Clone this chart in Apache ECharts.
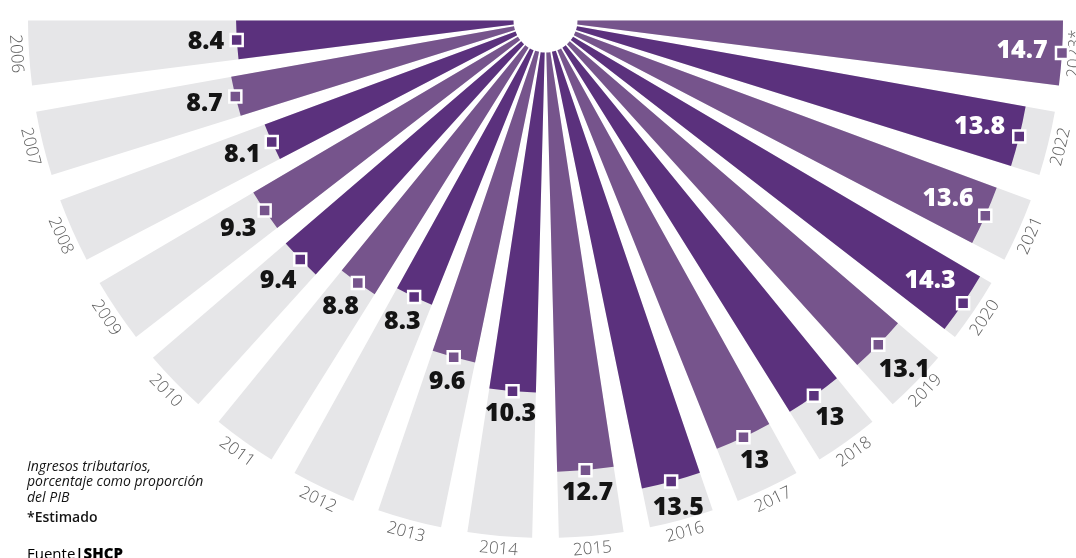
<!DOCTYPE html>
<html><head><meta charset="utf-8">
<script src="https://cdn.jsdelivr.net/npm/echarts@6/dist/echarts.min.js"></script>
<style>html,body{margin:0;padding:0;background:#fff}#chart{width:1076px;height:558px}</style>
</head><body><div id="chart"></div>
<script>
// ---- data ----
const years = ['2006','2007','2008','2009','2010','2011','2012','2013','2014','2015','2016','2017','2018','2019','2020','2021','2022','2023*'];
const values = [8.4, 8.7, 8.1, 9.3, 9.4, 8.8, 8.3, 9.6, 10.3, 12.7, 13.5, 13, 13, 13.1, 14.3, 13.6, 13.8, 14.7];
const insideLabelYears = ['2020','2021','2022','2023*'];
const axisMax = 14.7;
const noteLines = ['Ingresos tributarios,', 'porcentaje como proporción', 'del PIB'];
const noteEstimate = '*Estimado';
const sourceLabel = 'Fuente';
const sourceName = 'SHCP';

// ---- styles ----
const DARK = '#5b317d', LIGHT = '#76548c', GRAY = '#e6e6e8', INK = '#141414';
const CX = 545.5, CY = 20.5, R0 = 32, R1 = 517.5;
const START = 178.52, END = 361.48;
const band = (END - START) / years.length;
function angleOf(i) { return START + band * (i + 0.5); }
const VALUE_FONT_SIZE = 25;
const VALUE_FONT_WEIGHT = 800;
const ctx = document.createElement('canvas').getContext('2d');
ctx.font = VALUE_FONT_WEIGHT + ' ' + VALUE_FONT_SIZE + 'px "Open Sans"';
function valueLabelOffset(i, text, inside) {
  const a = angleOf(i) * Math.PI / 180;
  const dx = Math.cos(a), dy = -Math.sin(a);
  const w = ctx.measureText(text).width, h = 17;
  const d = (inside ? 14 : 12) + Math.abs(dx) * w / 2 + Math.abs(dy) * h / 2;
  const s = inside ? -1 : 1;
  return [s * dx * d, s * dy * d];
}

const markerData = values.map((v, i) => {
  const inside = insideLabelYears.indexOf(years[i]) >= 0;
  const txt = String(v);
  return {
    value: [v, years[i]],
    itemStyle: { color: i % 2 ? LIGHT : DARK },
    label: {
      offset: valueLabelOffset(i, txt, inside),
      color: inside ? '#ffffff' : INK
    }
  };
});

const yearData = years.map((y, i) => ({
  value: [axisMax, y],
  label: { rotate: angleOf(i) - 270, offset: [0, 13] }
}));

const chart = echarts.init(document.getElementById('chart'), null, { renderer: 'canvas' });
chart.setOption({
  animation: false,
  backgroundColor: '#ffffff',
  polar: { center: [CX, CY], radius: [R0, R1] },
  angleAxis: {
    type: 'category', data: years, startAngle: START, endAngle: END, clockwise: false,
    boundaryGap: true,
    axisLine: { show: false }, axisTick: { show: false }, axisLabel: { show: false }, splitLine: { show: false }
  },
  radiusAxis: {
    type: 'value', min: 0, max: axisMax,
    axisLine: { show: false }, axisTick: { show: false }, axisLabel: { show: false }, splitLine: { show: false }
  },
  series: [
    {
      type: 'bar', coordinateSystem: 'polar', data: values,
      barCategoryGap: '29.1%',
      showBackground: true, backgroundStyle: { color: GRAY },
      itemStyle: { color: p => (p.dataIndex % 2 ? LIGHT : DARK) },
      silent: true, z: 1
    },
    {
      type: 'scatter', coordinateSystem: 'polar', data: markerData,
      symbol: 'rect', symbolSize: 12,
      itemStyle: { borderColor: '#ffffff', borderWidth: 2.5, opacity: 1 },
      label: {
        show: true, position: 'inside', align: 'center', verticalAlign: 'middle',
        formatter: p => String(p.value[0]),
        fontFamily: 'Open Sans', fontWeight: VALUE_FONT_WEIGHT, fontSize: VALUE_FONT_SIZE,
        color: INK, opacity: 1, textBorderWidth: 0
      },
      silent: true, z: 3
    },
    {
      type: 'scatter', coordinateSystem: 'polar', data: yearData,
      symbolSize: 1, itemStyle: { color: 'rgba(0,0,0,0)' },
      label: {
        show: true, position: 'inside', align: 'center', verticalAlign: 'middle',
        formatter: p => p.value[1],
        fontFamily: 'Open Sans', fontWeight: 300, fontSize: 17, color: '#333333'
      },
      silent: true, z: 2
    }
  ],
  graphic: [
    { type: 'text', left: 27, top: 459,
      style: { text: noteLines.join('\n'), font: 'italic 14px "Open Sans"', lineHeight: 15.5, fill: INK } },
    { type: 'text', left: 27, top: 511,
      style: { text: noteEstimate, font: '600 14px "Open Sans"', fill: INK } },
    { type: 'text', left: 27, top: 547,
      style: {
        text: '{a|' + sourceLabel + '}{b||}{c|' + sourceName + '}',
        rich: {
          a: { fontFamily: 'Open Sans', fontSize: 15, color: INK },
          b: { fontFamily: 'Open Sans', fontSize: 15, fontWeight: 700, color: DARK },
          c: { fontFamily: 'Open Sans', fontSize: 15, fontWeight: 800, color: INK }
        }
      } }
  ]
});
</script></body></html>
